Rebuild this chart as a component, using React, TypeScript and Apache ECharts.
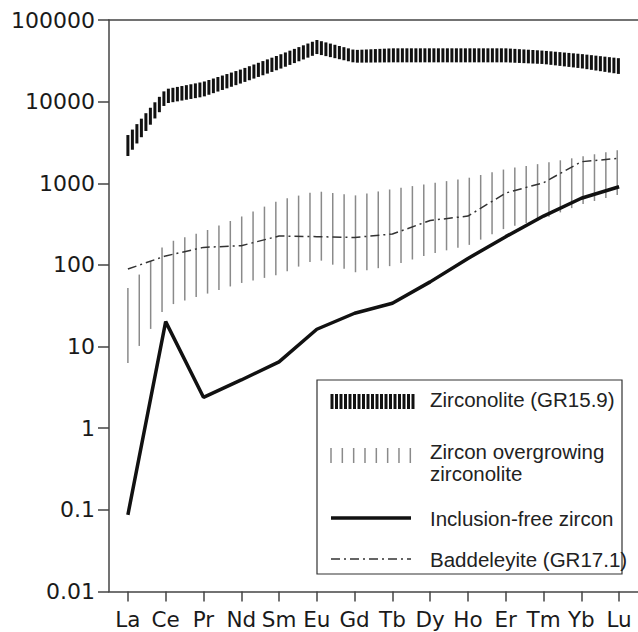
import React, { useEffect, useRef } from "react";
import * as echarts from "echarts";

const categories = ["La", "Ce", "Pr", "Nd", "Sm", "Eu", "Gd", "Tb", "Dy", "Ho", "Er", "Tm", "Yb", "Lu"];
const yTickLabels = ["0.01", "0.1", "1", "10", "100", "1000", "10000", "100000"];

const zirconoliteHigh = [3900, 14200, 17500, 24900, 37300, 56900, 42900, 45000, 45000, 45000, 45000, 42100, 38300, 34000];
const zirconoliteLow = [2160, 9500, 11500, 16800, 24900, 38300, 30000, 30300, 30300, 30300, 30300, 28900, 25600, 21800];

const overgrowthHigh = [52, 185, 256, 390, 619, 800, 708, 851, 994, 1160, 1496, 1760, 2120, 2570];
const overgrowthLow = [6.3, 31, 43, 60, 76, 118, 81, 98, 136, 173, 283, 368, 550, 729];

const baddeleyite = [89, 129, 164, 172, 226, 222, 217, 239, 350, 397, 760, 1017, 1837, 2023];
const inclusionFree = [0.087, 20.2, 2.39, 3.9, 6.5, 16.3, 25.6, 33.9, 62, 120, 222, 397, 655, 908];

const legendLabels = ["Zirconolite (GR15.9)", "Zircon overgrowing", "zirconolite", "Inclusion-free zircon", "Baddeleyite (GR17.1)"];

function bandSegments(lo: number[], hi: number[]) {
  const out: number[][] = [];
  for (let i = 0; i < lo.length - 1; i++) out.push([i, lo[i], hi[i], lo[i + 1], hi[i + 1]]);
  return out;
}

function hatchRenderer(spacing: number, width: number, color: string, lastExtra: number) {
  return (params: any, api: any) => {
    const i = api.value(0);
    const a0 = api.coord([i, api.value(2)]);
    const a1 = api.coord([i, api.value(1)]);
    const b0 = api.coord([i + 1, api.value(4)]);
    const b1 = api.coord([i + 1, api.value(3)]);
    const origin = api.coord([0, 1])[0];
    const xa = a0[0];
    const xb = b0[0];
    const isLast = i === categories.length - 2;
    const children: any[] = [];
    let k = Math.ceil((xa - origin) / spacing - 1e-6);
    for (let guard = 0; guard < 500; guard++, k++) {
      const x = origin + k * spacing;
      if (isLast ? x > xb + lastExtra + 1e-6 : x >= xb - 1e-6) break;
      const t = Math.min(1, (x - xa) / (xb - xa));
      const yt = a0[1] + t * (b0[1] - a0[1]);
      const yb = a1[1] + t * (b1[1] - a1[1]);
      children.push({
        type: "line",
        shape: { x1: x, y1: yt, x2: x, y2: yb },
        style: { stroke: color, lineWidth: width },
      });
    }
    return { type: "group", children };
  };
}

function buildLegend() {
  const els: any[] = [];
  els.push({
    type: "rect",
    shape: { x: 317, y: 380, width: 305, height: 194 },
    style: { fill: "#fff", stroke: "#333", lineWidth: 1.2 },
    z: 50,
  });
  for (let x = 332; x <= 416; x += 4.5) {
    els.push({
      type: "line",
      shape: { x1: x, y1: 394, x2: x, y2: 409 },
      style: { stroke: "#111", lineWidth: 3 },
      z: 51,
    });
  }
  for (let k = 0; k < 8; k++) {
    const x = 331 + k * 11.33;
    els.push({
      type: "line",
      shape: { x1: x, y1: 448, x2: x, y2: 463 },
      style: { stroke: "#8a8a8a", lineWidth: 1.5 },
      z: 51,
    });
  }
  els.push({
    type: "line",
    shape: { x1: 331, y1: 518, x2: 411, y2: 518 },
    style: { stroke: "#111", lineWidth: 3.5 },
    z: 51,
  });
  els.push({
    type: "line",
    shape: { x1: 331, y1: 559, x2: 411, y2: 559 },
    style: { stroke: "#333", lineWidth: 1.5, lineDash: [9, 4, 2, 4] },
    z: 51,
  });
  const ys = [399, 451.5, 473.5, 518, 559];
  legendLabels.forEach((t, idx) => {
    els.push({
      type: "text",
      x: 430,
      y: ys[idx],
      style: {
        text: t,
        fontFamily: "Liberation Sans",
        fontSize: 20.5,
        fill: "#222",
        verticalAlign: "middle",
        align: "left",
      },
      z: 52,
    });
  });
  return els;
}

export default function App() {
  const ref = useRef<HTMLDivElement>(null);
  useEffect(() => {
    if (!ref.current) return;
    const chart = echarts.init(ref.current, undefined, { renderer: "svg" });
    const axisColor = "#444";
    chart.setOption({
      animation: false,
      backgroundColor: "#fff",
      grid: { left: 109, top: 20, width: 532, bottom: 40.5, containLabel: false },
      xAxis: [
        {
          type: "category",
          data: categories,
          boundaryGap: true,
          position: "bottom",
          axisLine: { show: true, lineStyle: { color: axisColor, width: 1.5 } },
          axisTick: { show: true, alignWithLabel: true, length: 10, lineStyle: { color: axisColor, width: 1.5 } },
          axisLabel: { fontFamily: "DejaVu Sans", fontSize: 21.5, color: "#1a1a1a", margin: 17, interval: 0 },
          splitLine: { show: false },
        },
        {
          type: "category",
          data: categories,
          position: "top",
          axisLine: { show: true, lineStyle: { color: axisColor, width: 1.5 } },
          axisTick: { show: false },
          axisLabel: { show: false },
          splitLine: { show: false },
        },
      ],
      yAxis: {
        type: "log",
        logBase: 10,
        min: 0.01,
        max: 100000,
        interval: 1,
        axisLine: { show: true, lineStyle: { color: axisColor, width: 1.5 } },
        axisTick: { show: true, length: 11, lineStyle: { color: axisColor, width: 1.5 } },
        axisLabel: {
          fontFamily: "DejaVu Sans",
          fontSize: 22,
          color: "#1a1a1a",
          margin: 14,
          formatter: (v: number) => {
            const idx = Math.round(Math.log10(v)) + 2;
            return yTickLabels[idx] ?? "";
          },
        },
        splitLine: { show: false },
        minorTick: { show: false },
      },
      series: [
        {
          name: "Zircon overgrowing zirconolite",
          type: "custom",
          xAxisIndex: 0,
          renderItem: hatchRenderer(11.38, 1.5, "#8a8a8a", 7),
          encode: { x: 0, y: [1, 2, 3, 4] },
          data: bandSegments(overgrowthLow, overgrowthHigh),
          z: 2,
          silent: true,
        },
        {
          name: "Zirconolite (GR15.9)",
          type: "custom",
          xAxisIndex: 0,
          renderItem: hatchRenderer(4.5, 3, "#111", 1.5),
          encode: { x: 0, y: [1, 2, 3, 4] },
          data: bandSegments(zirconoliteLow, zirconoliteHigh),
          z: 3,
          silent: true,
        },
        {
          name: "Baddeleyite (GR17.1)",
          type: "line",
          xAxisIndex: 0,
          data: baddeleyite,
          symbol: "none",
          lineStyle: { color: "#333", width: 1.5, type: [9, 4, 2, 4] },
          z: 4,
        },
        {
          name: "Inclusion-free zircon",
          type: "line",
          xAxisIndex: 0,
          data: inclusionFree,
          symbol: "none",
          lineStyle: { color: "#111", width: 3.5 },
          z: 5,
        },
      ],
      graphic: buildLegend(),
    });
    return () => chart.dispose();
  }, []);
  return (
    <div
      ref={ref}
      style={{ position: "fixed", left: 0, top: 0, width: 638, height: 632, background: "#fff" }}
    />
  );
}
